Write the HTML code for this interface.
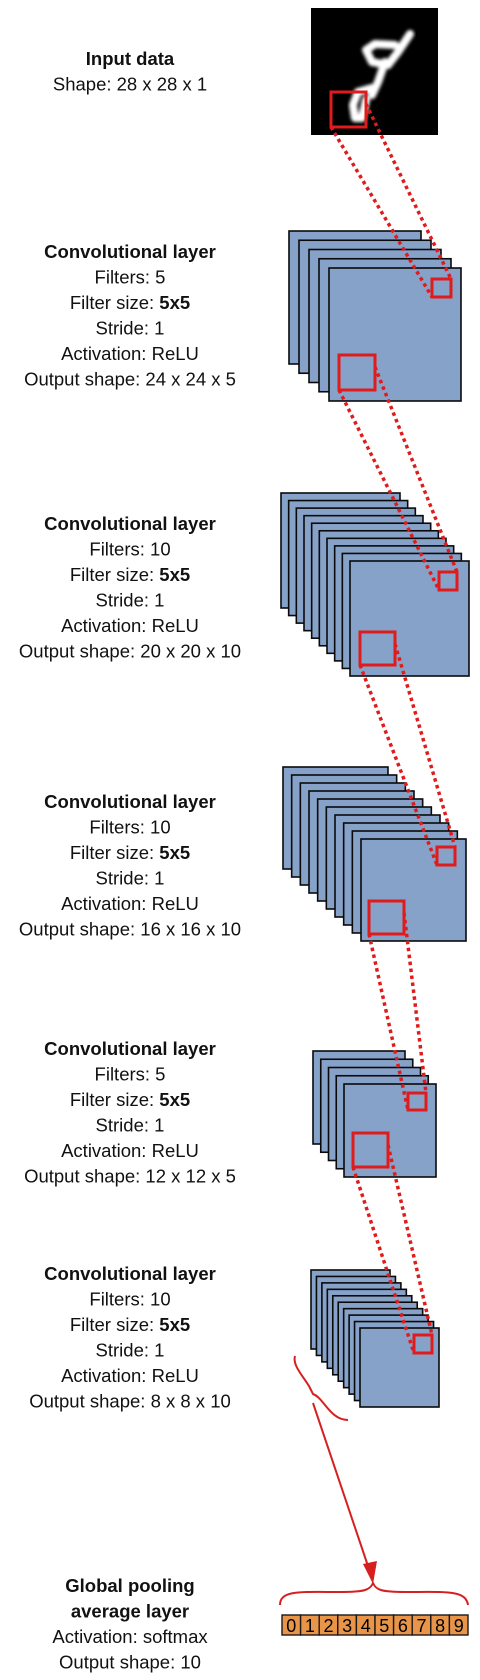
<!DOCTYPE html>
<html><head><meta charset="utf-8"><style>
html,body{margin:0;padding:0;background:#fff;}
svg{display:block;}
text{font-family:"Liberation Sans",sans-serif;font-size:18.5px;fill:#111;}
.b{font-weight:bold;}
</style></head><body>
<svg id="chart" width="480" height="1680" viewBox="0 0 480 1680" xmlns="http://www.w3.org/2000/svg">
<defs><filter id="blur" x="-10%" y="-10%" width="120%" height="120%"><feGaussianBlur stdDeviation="1.6"/></filter></defs>
<g id="labels"></g>
<g id="input">
  <rect x="311" y="8" width="127" height="127" fill="#000"/>
  <path filter="url(#blur)" d="M410,34 L398,52 L388,65 L372,62 L366,50 L375,44 L395,45 M385,62 L378,82 L372,95 M372,88 L358,92 L353,105 L355,118 L362,118 L366,100" fill="none" stroke="#fff" stroke-width="8" stroke-linejoin="round" stroke-linecap="round"/>
</g>
<g id="stacks"></g>
<g id="links"></g>
<g id="output">
  <path d="M295,1356 C292,1366 305,1378 310,1388 L313,1394 C324,1398 330,1420 348,1420" fill="none" stroke="#d62020" stroke-width="2"/>
  <line x1="313" y1="1403" x2="370" y2="1572" stroke="#d62020" stroke-width="2"/>
  <polygon points="373,1584 363,1564 377,1561" fill="#d62020"/>
  <path d="M280,1605 C280,1590 300,1592 340,1592 C365,1592 370,1590 373,1583 C376,1590 381,1592 406,1592 C446,1592 466,1590 468,1605" fill="none" stroke="#d62020" stroke-width="2"/>
  <g id="cells"></g>
</g>
</svg>
<script>
const NS="http://www.w3.org/2000/svg";
const labelBlocks=[
 {y:65,lines:[["Input data",1],["Shape: 28 x 28 x 1",0]]},
 {y:258,lines:[["Convolutional layer",1],["Filters: 5",0],["Filter size: |5x5",2],["Stride: 1",0],["Activation: ReLU",0],["Output shape: 24 x 24 x 5",0]]},
 {y:530,lines:[["Convolutional layer",1],["Filters: 10",0],["Filter size: |5x5",2],["Stride: 1",0],["Activation: ReLU",0],["Output shape: 20 x 20 x 10",0]]},
 {y:808,lines:[["Convolutional layer",1],["Filters: 10",0],["Filter size: |5x5",2],["Stride: 1",0],["Activation: ReLU",0],["Output shape: 16 x 16 x 10",0]]},
 {y:1055,lines:[["Convolutional layer",1],["Filters: 5",0],["Filter size: |5x5",2],["Stride: 1",0],["Activation: ReLU",0],["Output shape: 12 x 12 x 5",0]]},
 {y:1280,lines:[["Convolutional layer",1],["Filters: 10",0],["Filter size: |5x5",2],["Stride: 1",0],["Activation: ReLU",0],["Output shape: 8 x 8 x 10",0]]},
 {y:1592,lines:[["Global pooling",1],["average layer",1],["Activation: softmax",0],["Output shape: 10",0]]}
];
const lg=document.getElementById('labels');
labelBlocks.forEach((b,bi)=>{
 b.lines.forEach((l,i)=>{
  const t=document.createElementNS(NS,'text');
  
  
  t.setAttribute('x',130);t.setAttribute('y',b.y+i*25.5);t.setAttribute('text-anchor','middle');
  if(l[1]===1)t.setAttribute('class','b');
  if(l[1]===2){const p=l[0].split('|');t.textContent=p[0];const s=document.createElementNS(NS,'tspan');s.setAttribute('class','b');s.textContent=p[1];t.appendChild(s);}
  else t.textContent=l[0];
  lg.appendChild(t);
 });
});
const stacks=[
 {n:5,bx:289,by:231,fx:329,fy:268,w:132,h:133},
 {n:10,bx:281,by:493,fx:350,fy:561,w:119,h:115},
 {n:10,bx:283,by:767,fx:361,fy:839,w:105,h:102},
 {n:5,bx:313,by:1051,fx:344,fy:1084,w:92,h:93},
 {n:10,bx:311,by:1270,fx:360,fy:1328,w:79,h:79}
];
const bigBoxes=[[331,92,35,35],[339,355,36,35],[360,632,35,33],[369,901,35,33],[353,1133,35,34]];
const smallBoxes=[[432,279,19,18],[439,572,18,18],[437,847,18,18],[408,1093,18,17],[414,1335,18,18]];
const sg=document.getElementById('stacks');
stacks.forEach(s=>{
 for(let i=0;i<s.n;i++){
  const f=s.n>1?i/(s.n-1):1;
  const r=document.createElementNS(NS,'rect');
  
  
  r.setAttribute('x',s.bx+(s.fx-s.bx)*f);r.setAttribute('y',s.by+(s.fy-s.by)*f);
  r.setAttribute('width',s.w);r.setAttribute('height',s.h);
  r.setAttribute('fill','#87a2c9');r.setAttribute('stroke','#0a0a0a');r.setAttribute('stroke-width','1.6');
  sg.appendChild(r);
 }
});
const kg=document.getElementById('links');
function box(b){const r=document.createElementNS(NS,'rect');
 
 
 r.setAttribute('x',b[0]);r.setAttribute('y',b[1]);r.setAttribute('width',b[2]);r.setAttribute('height',b[3]);
 r.setAttribute('fill','none');r.setAttribute('stroke','#e01b1b');r.setAttribute('stroke-width','3');kg.appendChild(r);}
function line(x1,y1,x2,y2){const l=document.createElementNS(NS,'line');
 
 
 l.setAttribute('x1',x1);l.setAttribute('y1',y1);l.setAttribute('x2',x2);l.setAttribute('y2',y2);
 l.setAttribute('stroke','#e01b1b');l.setAttribute('stroke-width','3.5');l.setAttribute('stroke-dasharray','3.5 3.5');kg.appendChild(l);}
bigBoxes.forEach((b,i)=>{
 const s=smallBoxes[i];
 line(b[0],b[1]+b[3],s[0],s[1]+s[3]);
 line(b[0]+b[2],b[1]+12,s[0]+s[2],s[1]);
 box(b);box(s);
});
const digits=["0","1","2","3","4","5","6","7","8","9"];
const cg=document.getElementById('cells');
const cx0=282,cw=18.6;
digits.forEach((d,i)=>{
 const r=document.createElementNS(NS,'rect');
 
 
 r.setAttribute('x',cx0+i*cw);r.setAttribute('y',1615);r.setAttribute('width',cw);r.setAttribute('height',20);
 r.setAttribute('fill','#e8954a');r.setAttribute('stroke','#1a1a1a');r.setAttribute('stroke-width','1.4');cg.appendChild(r);
 const t=document.createElementNS(NS,'text');
 
 
 t.setAttribute('x',cx0+i*cw+cw/2);t.setAttribute('y',1632);t.setAttribute('text-anchor','middle');t.setAttribute('style','font-size:18px;fill:#000');
 t.textContent=d;cg.appendChild(t);
});
</script>
</body></html>
